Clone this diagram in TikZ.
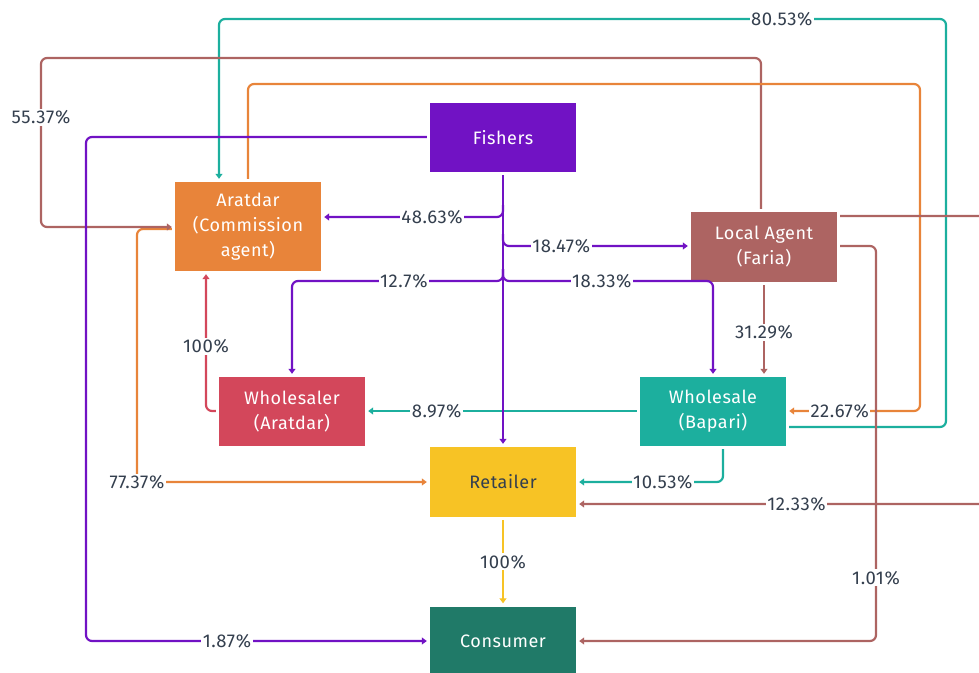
\documentclass[tikz,border=0pt]{standalone}
\usepackage{fontspec}
\setmainfont{Fira Sans}[LetterSpace=3]
\usetikzlibrary{arrows.meta,calc}

\definecolor{cFish}{HTML}{7112C4}
\definecolor{cArat}{HTML}{E8843A}
\definecolor{cAgent}{HTML}{AD6462}
\definecolor{cWhsA}{HTML}{D3475B}
\definecolor{cBap}{HTML}{1CAF9E}
\definecolor{cRet}{HTML}{F7C325}
\definecolor{cCons}{HTML}{207A68}
\definecolor{cText}{HTML}{343F4E}

\tikzset{
  actor/.style={rectangle, minimum width=146pt, minimum height=69pt, inner sep=0pt,
    align=center, text=white, font=\fontsize{18}{25}\selectfont},
  flow/.style={line width=2.2pt, rounded corners=6pt, shorten <=3pt, shorten >=3pt,
    -{Triangle[length=5pt,width=7pt]}},
  lbl/.style={fill=white, inner sep=1.5pt, text=cText, font=\fontsize{18.5}{20}\selectfont, rounded corners=0pt}
}

\begin{document}
\begin{tikzpicture}[x=1pt, y=-1pt]
\useasboundingbox (0,0) rectangle (979,672);
\clip (0,0) rectangle (979,672);

% market actors
\node[actor, fill=cFish]                   (fish) at (503,137.5) {Fishers};
\node[actor, fill=cArat, minimum height=89pt] (arat) at (248,226.5) {Aratdar\\(Commission\\agent)};
\node[actor, fill=cAgent, minimum height=70pt] (agent) at (764,247) {Local Agent\\(Faria)};
\node[actor, fill=cWhsA]                   (whsa) at (292,411.5) {Wholesaler\\(Aratdar)};
\node[actor, fill=cBap]                    (bap)  at (713,411.5) {Wholesale\\(Bapari)};
\node[actor, fill=cRet, text=cText, minimum height=70pt] (ret) at (503,482) {Retailer};
\node[actor, fill=cCons]                   (cons) at (503,641) {Consumer};

% Aratdar -> Retailer (runs beneath the agent line into Aratdar)
\draw[flow, cArat] (arat.west |- 0,229) -- (137,229) -- (137,482) node[lbl]{77.37\%} -- (ret.west |- 0,482);

% Bapari -> Aratdar, round the top
\draw[flow, cBap] (bap.east |- 0,427) -- (946,427) -- (946,19)
  -- node[lbl, pos=0.226]{80.53\%} (219,19) -- (arat.north -| 219,0);

% Local agent -> Aratdar
\draw[flow, cAgent] (agent.north -| 761,0) -- (761,58) -- (41,58)
  -- node[lbl, pos=0.35]{55.37\%} (41,227) -- (arat.west |- 0,227);

% Aratdar -> Bapari
\draw[flow, cArat] (arat.north -| 248,0) -- (248,84) -- (920,84) -- (920,411)
  -- node[lbl, pos=0.6]{22.67\%} (bap.east |- 0,411);

% Fishers -> Consumer
\draw[flow, cFish] (fish.west |- 0,137) -- (86,137) -- (86,641)
  -- node[lbl, pos=0.41]{1.87\%} (cons.west |- 0,641);

% Bapari -> Wholesaler (Aratdar)
\draw[flow, cBap] (bap.west |- 0,411) -- node[lbl, pos=0.74]{8.97\%} (whsa.east |- 0,411);

% Fishers trunk and branches
\draw[flow, cFish] (fish.south) -- (ret.north);
\draw[flow, cFish, shorten <=0pt] (503,205) -- (503,217)
  -- node[lbl, pos=0.39]{48.63\%} (arat.east |- 0,217);
\draw[flow, cFish, shorten <=0pt] (503,234) -- (503,246)
  -- node[lbl, pos=0.31]{18.47\%} (agent.west |- 0,246);
\draw[flow, cFish, shorten <=0pt] (503,269) -- (503,281)
  -- node[lbl, pos=0.47]{12.7\%} (whsa.north |- 0,281) -- (whsa.north);
\draw[flow, cFish, shorten <=0pt] (503,269) -- (503,281)
  -- node[lbl, pos=0.47]{18.33\%} (bap.north |- 0,281) -- (bap.north);

% Wholesaler (Aratdar) -> Aratdar
\draw[flow, cWhsA] (whsa.west |- 0,411) -- (206,411)
  -- node[lbl, pos=0.46]{100\%} (arat.south -| 206,0);

% Bapari -> Retailer
\draw[flow, cBap] (bap.south -| 723,0) -- (723,482)
  -- node[lbl, pos=0.41]{10.53\%} (ret.east |- 0,482);

% Local agent -> Retailer, leaving past the right edge
\draw[flow, cAgent] (agent.east |- 0,216) -- (1000,216) -- (1000,504)
  -- node[lbl, pos=0.48]{12.33\%} (ret.east |- 0,504);

% Local agent -> Consumer
\draw[flow, cAgent] (agent.east |- 0,246) -- (876,246)
  -- node[lbl, pos=0.84]{1.01\%} (876,641) -- (cons.east |- 0,641);

% Local agent -> Bapari
\draw[flow, cAgent] (agent.south) -- node[lbl, pos=0.53]{31.29\%} (agent.south |- bap.north);

% Retailer -> Consumer
\draw[flow, cRet] (ret.south) -- node[lbl]{100\%} (cons.north);
\end{tikzpicture}
\end{document}
